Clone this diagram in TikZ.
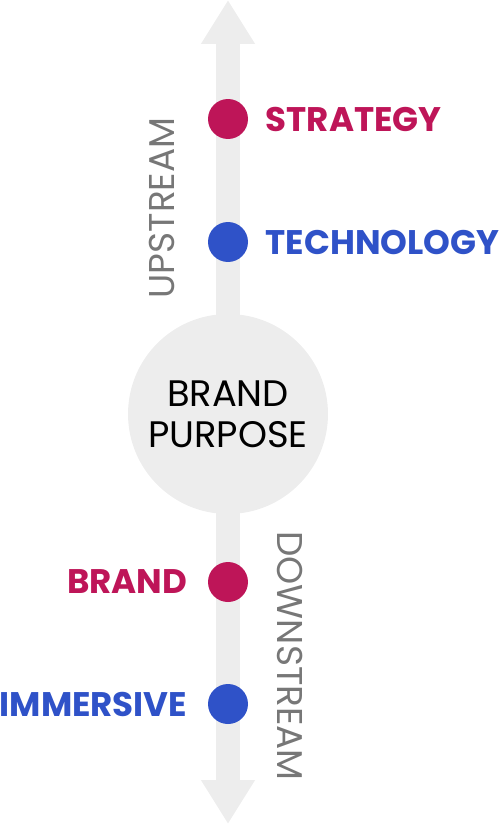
\documentclass[tikz,border=0pt]{standalone}
\usepackage{fontspec}
\setmainfont{Poppins}
\usetikzlibrary{arrows.meta,positioning}
\definecolor{magentared}{HTML}{BE1558}
\definecolor{royalblue}{HTML}{2F52C8}
\definecolor{lightgrey}{HTML}{EDEDED}
\definecolor{midgrey}{HTML}{777777}
\tikzset{
  dot/.style={circle, minimum size=0.8cm, inner sep=0pt},
  tag/.style={inner sep=0pt, font=\fontsize{19.4}{22}\selectfont\bfseries},
  flow/.style={inner sep=0pt, text=midgrey, font=\fontsize{20.4}{24}\selectfont},
}
\begin{document}
\begin{tikzpicture}[x=0.02cm, y=-0.02cm]
  \useasboundingbox (0,0) rectangle (500,824);
  \coordinate (top) at (228,0);
  \coordinate (bottom) at (228,824);
  % the stream
  \draw[lightgrey, line width=0.48cm,
        {Triangle[width=1.02cm, length=0.88cm]}-{Triangle[width=1.02cm, length=0.88cm]}]
        (top) -- (bottom);
  \node[circle, fill=lightgrey, minimum size=4cm, align=center,
        font=\fontsize{21}{23.3}\selectfont] (purpose) at (228,414) {BRAND\\PURPOSE};
  % upstream
  \node[dot, fill=magentared] (sdot) at (228,119) {};
  \node[dot, fill=royalblue] (tdot) at (228,242) {};
  \node[tag, text=magentared, right=0.34cm of sdot] (strategy) {STRATEGY};
  \node[tag, text=royalblue, right=0.34cm of tdot] (technology) {TECHNOLOGY};
  \node[flow, rotate=90] (up) at (162,208) {UPSTREAM};
  % downstream
  \node[dot, fill=magentared] (bdot) at (228,582) {};
  \node[dot, fill=royalblue] (idot) at (228,704) {};
  \node[tag, text=magentared, left=0.4cm of bdot] (brand) {BRAND};
  \node[tag, text=royalblue, left=0.4cm of idot] (immersive) {IMMERSIVE};
  \node[flow, rotate=-90] (down) at (290,656) {DOWNSTREAM};
\end{tikzpicture}
\end{document}
